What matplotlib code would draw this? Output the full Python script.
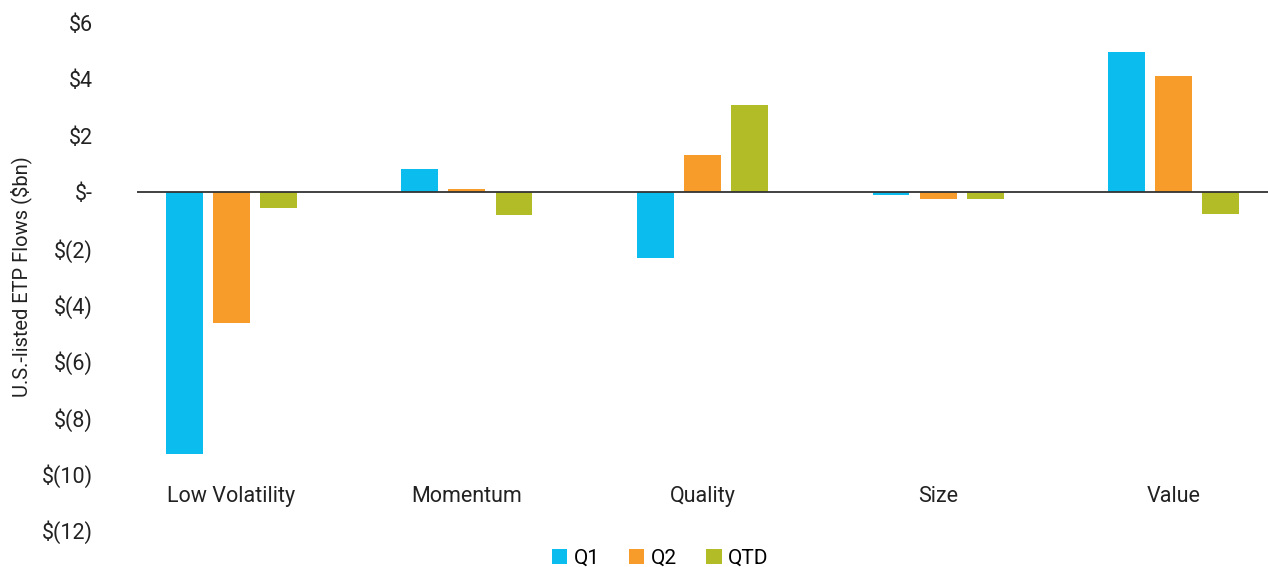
import matplotlib
matplotlib.use("Agg")
import matplotlib.pyplot as plt
import numpy as np

plt.rcParams["font.family"] = ["Roboto", "DejaVu Sans"]

categories = ["Low Volatility", "Momentum", "Quality", "Size", "Value"]
q1 = [-9.31, 0.81, -2.34, -0.12, 4.96]
q2 = [-4.66, 0.10, 1.31, -0.25, 4.11]
qtd = [-0.57, -0.80, 3.09, -0.25, -0.79]
series_names = ["Q1", "Q2", "QTD"]
colors = ["#0BBCEE", "#F79C2B", "#B2BC26"]
yticks = [6, 4, 2, 0, -2, -4, -6, -8, -10, -12]


def money(v):
    if v == 0:
        return "$-"
    if v < 0:
        return f"$({-v})"
    return f"${v}"


fig = plt.figure(figsize=(12.68, 5.67), dpi=100)
ax = fig.add_axes([137 / 1268, 37 / 567, 1131 / 1268, 507 / 567])

x = np.arange(len(categories))
width = 0.157
step = 0.2
for i, (vals, name, c) in enumerate(zip([q1, q2, qtd], series_names, colors)):
    ax.bar(x + (i - 1) * step, vals, width, color=c, label=name, zorder=2)

ax.axhline(0, color="#333333", lw=1.3, zorder=3)
ax.set_xlim(-0.4, 4.4)
ax.set_ylim(-12, 6)

for s in ax.spines.values():
    s.set_visible(False)

ax.set_yticks(yticks)
ax.set_yticklabels([money(v) for v in yticks], fontsize=15.5, color="#222222")
ax.tick_params(axis="y", length=0, pad=32)
ax.set_xticks([])
ax.set_ylabel("U.S.-listed ETP Flows ($bn)", fontsize=14.5, color="#222222", labelpad=7)

# category names sit low, just above the $(12) gridline
for xi, cat in zip(x, categories):
    ax.text(xi, -10.8, cat, ha="center", va="center", fontsize=15.5, color="#222222")

ax.legend(loc="center", bbox_to_anchor=(660 / 1268, 9 / 567), bbox_transform=fig.transFigure,
          ncol=3, frameon=False, fontsize=15, handlelength=0.75, handleheight=0.75,
          handletextpad=0.3, columnspacing=1.4, borderpad=0)

fig.savefig("out.png", dpi=100)
